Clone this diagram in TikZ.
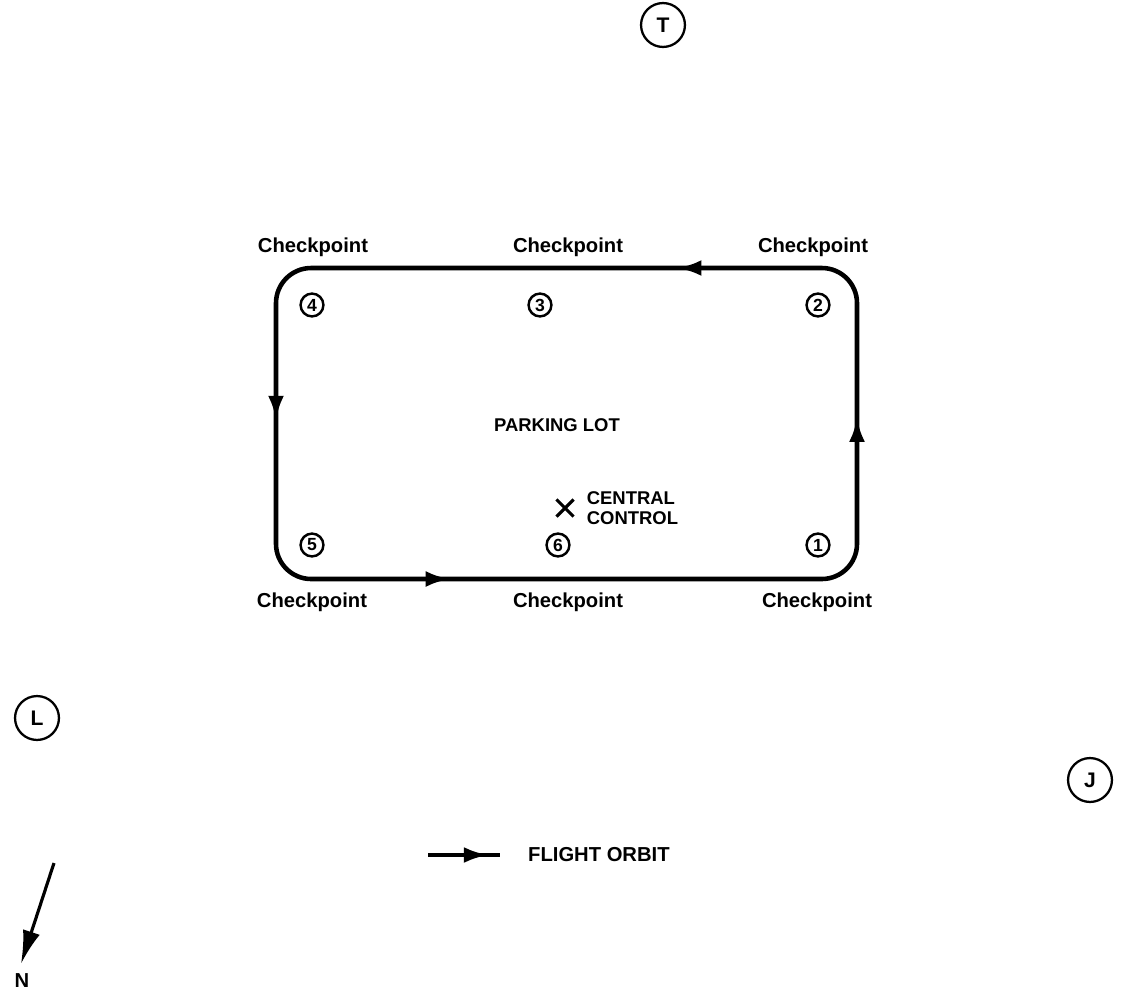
\documentclass[tikz,border=0pt]{standalone}
\usepackage{fontspec}
\setmainfont{Liberation Sans}
\usetikzlibrary{calc,positioning,arrows.meta,decorations.markings,shapes.misc}
\tikzset{
  >={Latex[length=14pt,width=9pt]},
  orbit/.style={draw, line width=2.6pt, rounded corners=20pt},
  midarrow/.style={postaction={decorate},
    decoration={markings, mark=at position #1 with {\arrow{>}}}},
  chk/.style={circle, draw, line width=1.4pt, inner sep=0pt,
    minimum size=13pt, font=\bfseries\fontsize{10}{10}\selectfont},
  chklabel/.style={font=\bfseries\fontsize{11.5}{12}\selectfont},
  site/.style={circle, draw, line width=1.3pt, inner sep=0pt,
    minimum size=25pt, font=\bfseries\fontsize{12}{12}\selectfont},
  caps/.style={font=\bfseries\fontsize{10.5}{11.5}\selectfont},
}
\begin{document}
\begin{tikzpicture}[x=0.02cm, y=-0.02cm]
  \useasboundingbox (0,0) rectangle (1129,998);
  % corners of the flight path
  \coordinate (nw) at (276,268);
  \coordinate (ne) at (857,268);
  \coordinate (se) at (857,579);
  \coordinate (sw) at (276,579);
  \coordinate (smid) at (566,579);
  % the orbit, then one arrow per leg
  \path[orbit] (smid) -- (se) -- (ne) -- (nw) -- (sw) -- cycle;
  \begin{scope}[line width=2.6pt]
    \path[midarrow=0.52] (se) -- (ne);
    \path[midarrow=0.31] (ne) -- (nw);
    \path[midarrow=0.49] (nw) -- (sw);
    \path[midarrow=0.30] (sw) -- (se);
  \end{scope}

  % checkpoints
  \node[chk] (cp1) at (818,545) {1};
  \node[chk] (cp2) at (818,305) {2};
  \node[chk] (cp3) at (540,305) {3};
  \node[chk] (cp4) at (312,305) {4};
  \node[chk] (cp5) at (312,545) {5};
  \node[chk] (cp6) at (558,545) {6};
  \node[chklabel] (lab1) at (817,602) {Checkpoint};
  \node[chklabel] (lab2) at (813,247) {Checkpoint};
  \node[chklabel] (lab3) at (568,247) {Checkpoint};
  \node[chklabel] (lab4) at (313,247) {Checkpoint};
  \node[chklabel] (lab5) at (312,602) {Checkpoint};
  \node[chklabel] (lab6) at (568,602) {Checkpoint};

  \node[caps] (lot) at (557,425) {PARKING LOT};
  \node[cross out, draw, line width=1.8pt, inner sep=0pt,
    minimum size=8pt] (ctrl) at (565,508) {};
  \node[caps, right=4pt of ctrl, align=left] (ctrltext)
    {CENTRAL\\CONTROL};

  % sites round the lot
  \node[site] (siteT) at (663,25) {T};
  \node[site] (siteL) at (37,718) {L};
  \node[site] (siteJ) at (1090,780) {J};

  % legend
  \coordinate (legA) at (428,855);
  \coordinate (legB) at (500,855);
  \draw[line width=2.4pt, midarrow=0.84] (legA) -- (legB);
  \node[chklabel, anchor=west] (legtext) at (522,855) {FLIGHT ORBIT};

  % north
  \coordinate (nstart) at (54,863);
  \node[chklabel] (north) at (22,981) {N};
  \draw[line width=1.8pt, -{Latex[length=19pt,width=10pt]}]
    (nstart) -- ($(north.north)+(-1,-4)$);
\end{tikzpicture}
\end{document}
